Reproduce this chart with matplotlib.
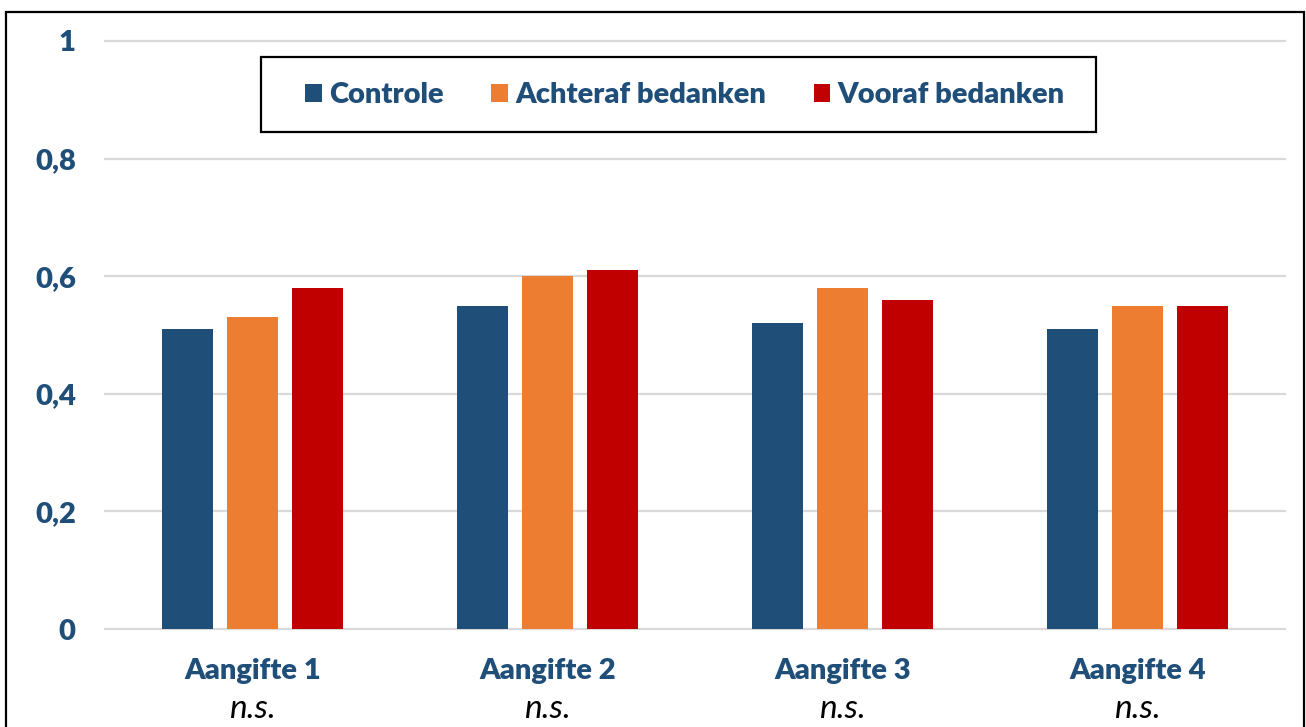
import matplotlib
matplotlib.use("Agg")
import matplotlib.pyplot as plt
import matplotlib.patches as mpatches
import numpy as np

categories = ["Aangifte 1", "Aangifte 2", "Aangifte 3", "Aangifte 4"]
sig_labels = ["n.s.", "n.s.", "n.s.", "n.s."]
series_names = ["Controle", "Achteraf bedanken", "Vooraf bedanken"]
controle = [0.51, 0.55, 0.52, 0.51]
achteraf = [0.53, 0.60, 0.58, 0.55]
vooraf = [0.58, 0.61, 0.56, 0.55]
yticks = [0, 0.2, 0.4, 0.6, 0.8, 1.0]
ytick_labels = ["0", "0,2", "0,4", "0,6", "0,8", "1"]

colors = ["#1F4E79", "#ED7D31", "#C00000"]
text_blue = "#1F4E79"
FONT = ["Lato", "DejaVu Sans"]
WEIGHT = "heavy"

W, H = 1306, 727
fig = plt.figure(figsize=(W / 100, H / 100), dpi=100)
fig.patch.set_facecolor("white")

ax = fig.add_axes([105 / W, (H - 629) / H, 1180 / W, 588 / H])
x = np.arange(len(categories))
bw = 0.173
step = 0.22
bars = []
for i, (vals, c, name) in enumerate(zip([controle, achteraf, vooraf], colors, series_names)):
    b = ax.bar(x + (i - 1) * step, vals, width=bw, color=c, label=name, zorder=3)
    bars.append(b)

ax.set_xlim(-0.5, 3.5)
ax.set_ylim(0, 1)
ax.set_yticks(yticks)
ax.set_yticklabels(ytick_labels, fontsize=21, fontweight=WEIGHT, color=text_blue, family=FONT)
ax.set_xticks(x)
ax.set_xticklabels(categories, fontsize=21, fontweight=WEIGHT, color=text_blue, family=FONT)
ax.tick_params(axis="y", length=0, pad=21)
ax.tick_params(axis="x", length=0, pad=21)
ax.yaxis.grid(True, color="#D9D9D9", linewidth=1.6, zorder=0)
ax.set_axisbelow(True)
for s in ax.spines.values():
    s.set_visible(False)
for line in ax.get_ygridlines():
    line.set_clip_on(False)

for xi, lab in zip(x, sig_labels):
    ax.annotate(lab, xy=(xi, 0), xycoords=("data", "axes fraction"),
                xytext=(0, -89), textcoords="offset pixels",
                ha="center", va="baseline", fontsize=24, fontstyle="italic",
                color="black", family=FONT)

# legend box
fig.patches.append(mpatches.Rectangle((261 / W, 1 - 132 / H), 835 / W, 75 / H,
                                      transform=fig.transFigure, fill=False,
                                      edgecolor="black", linewidth=1.6))
leg = fig.legend(handles=bars, labels=series_names, loc="center",
                 bbox_to_anchor=(685 / W, 1 - 95 / H), ncol=3, frameon=False,
                 prop={"family": FONT, "weight": WEIGHT, "size": 21},
                 labelcolor=text_blue, handlelength=0.58, handleheight=0.58,
                 handletextpad=0.25, columnspacing=1.62)

# figure border
fig.patches.append(mpatches.Rectangle((6 / W, -0.05), 1298 / W, 1.05 - 12 / H,
                                      transform=fig.transFigure, fill=False,
                                      edgecolor="black", linewidth=1.6))

fig.savefig("out.png", dpi=100)
